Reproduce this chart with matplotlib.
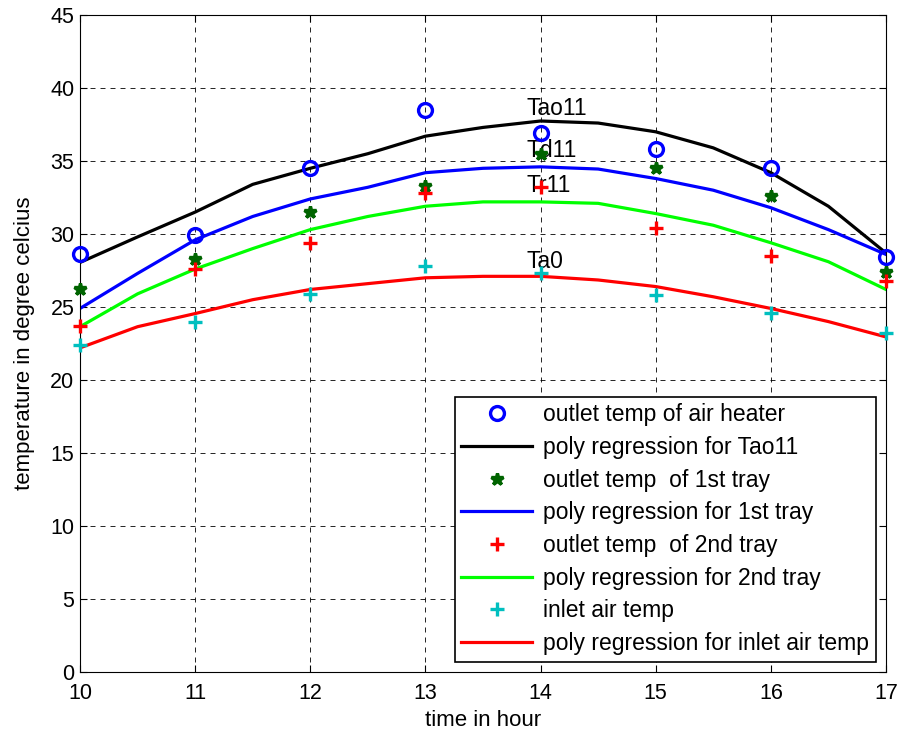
import matplotlib
matplotlib.use("Agg")
import matplotlib.pyplot as plt

plt.rcParams['font.family'] = ['Liberation Sans', 'DejaVu Sans']

hours = [10, 11, 12, 13, 14, 15, 16, 17]
tao11 = [28.6, 29.9, 34.5, 38.5, 36.9, 35.8, 34.5, 28.4]
td11 = [26.2, 28.3, 31.5, 33.3, 35.5, 34.5, 32.6, 27.4]
tr11 = [23.7, 27.6, 29.4, 32.8, 33.2, 30.4, 28.5, 26.8]
ta0 = [22.4, 24.0, 25.9, 27.8, 27.3, 25.8, 24.6, 23.2]

fit_hours = [10, 10.5, 11, 11.5, 12, 12.5, 13, 13.5, 14, 14.5, 15, 15.5, 16, 16.5, 17]
fit_tao11 = [28.05, 29.8, 31.5, 33.4, 34.5, 35.5, 36.7, 37.3, 37.74, 37.6, 37.0, 35.9, 34.2, 31.9, 28.7]
fit_td11 = [24.9, 27.3, 29.6, 31.2, 32.4, 33.2, 34.2, 34.5, 34.6, 34.45, 33.8, 33.0, 31.8, 30.3, 28.6]
fit_tr11 = [23.65, 25.9, 27.6, 29.0, 30.3, 31.2, 31.9, 32.2, 32.2, 32.1, 31.4, 30.6, 29.4, 28.1, 26.2]
fit_ta0 = [22.2, 23.65, 24.55, 25.5, 26.2, 26.6, 27.0, 27.1, 27.1, 26.85, 26.4, 25.7, 24.9, 24.0, 22.95]

labels = ["Tao11", "Td11", "Tr11", "Ta0"]
label_pos = [(13.88, 38.6), (13.88, 35.75), (13.88, 33.3), (13.88, 28.1)]

fig = plt.figure(figsize=(9, 7.32), dpi=100)
ax = fig.add_axes([0.0889, 0.082, 0.8955, 0.8975])

ax.plot(hours, tao11, 'o', color='#0000ff', mfc='none', mew=2.4, ms=10,
        label='outlet temp of air heater', clip_on=False, zorder=5)
ax.plot(fit_hours, fit_tao11, '-', color='black', lw=2.3, label='poly regression for Tao11')
ax.plot(hours, td11, '*', color='#006400', mew=2.4, ms=9,
        label='outlet temp  of 1st tray', clip_on=False, zorder=5)
ax.plot(fit_hours, fit_td11, '-', color='#0000ff', lw=2.3, label='poly regression for 1st tray')
ax.plot(hours, tr11, '+', color='#ff0000', mew=2.4, ms=9.5,
        label='outlet temp  of 2nd tray', clip_on=False, zorder=5)
ax.plot(fit_hours, fit_tr11, '-', color='#00ff00', lw=2.3, label='poly regression for 2nd tray')
ax.plot(hours, ta0, '+', color='#00bfbf', mew=2.4, ms=9.5,
        label='inlet air temp', clip_on=False, zorder=5)
ax.plot(fit_hours, fit_ta0, '-', color='#ff0000', lw=2.3, label='poly regression for inlet air temp')

for t, (x, y) in zip(labels, label_pos):
    ax.text(x, y, t, fontsize=16.5, va='center', ha='left')

ax.set_xlim(10, 17)
ax.set_ylim(0, 45)
ax.set_xticks(hours)
ax.set_yticks(range(0, 46, 5))
ax.tick_params(direction='in', top=True, right=True, labelsize=15.5, length=5)
ax.tick_params(axis='x', pad=8)
ax.tick_params(axis='y', pad=4)
ax.grid(True, color='black', linestyle=(0, (6, 6)), linewidth=0.6)
ax.set_xlabel('time in hour', fontsize=16, labelpad=4.5)
ax.set_ylabel('temperature in degree celcius', fontsize=16, labelpad=11)

leg = ax.legend(loc='lower right', fontsize=16.5, frameon=True, fancybox=False,
                edgecolor='black', framealpha=1, handlelength=3.1,
                borderaxespad=0.45, labelspacing=0.42, handletextpad=0.45,
                borderpad=0.3)
leg.get_frame().set_linewidth(1.2)

fig.savefig('out.png', dpi=100)
